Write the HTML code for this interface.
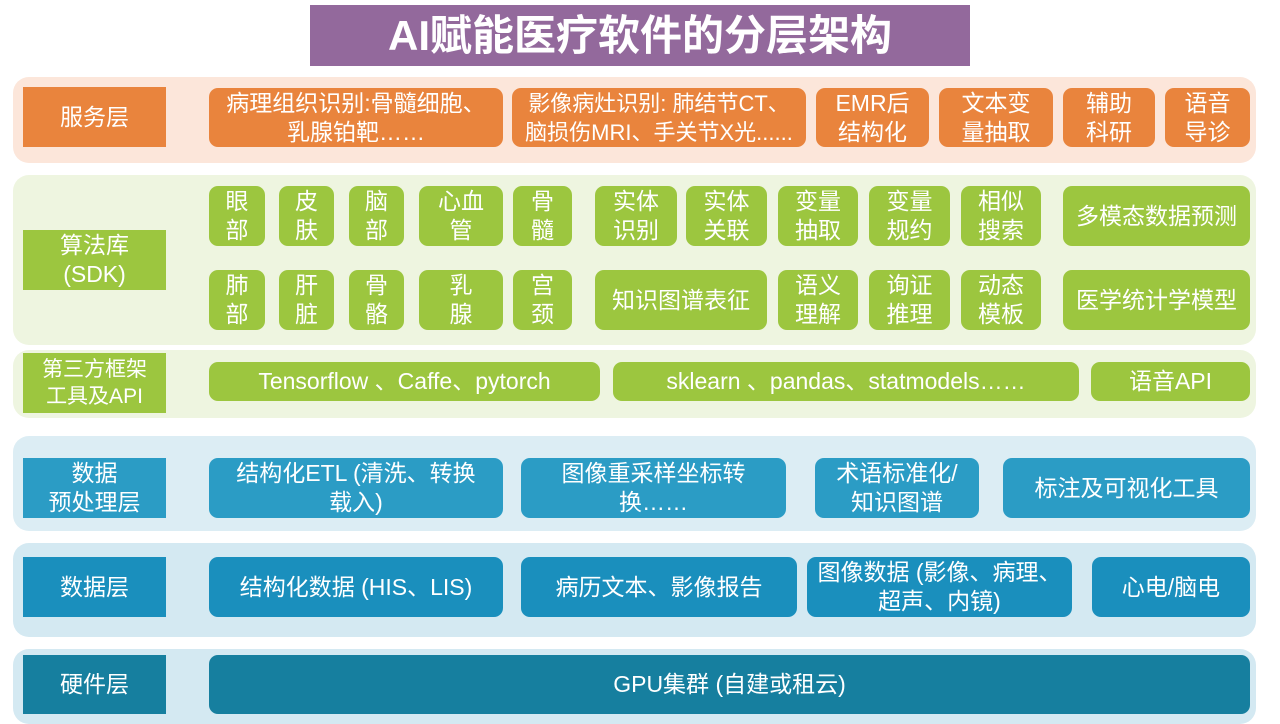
<!DOCTYPE html>
<html><head><meta charset="utf-8"><style>
body{margin:0;width:1280px;height:720px;position:relative;background:#fff;overflow:hidden;font-family:"Liberation Sans","Noto Sans CJK SC",sans-serif;}
div.b{position:absolute;display:flex;align-items:center;justify-content:center;text-align:center;color:#fff;font-size:23px;line-height:29px;box-sizing:border-box;white-space:nowrap;}
.r{border-radius:9px;}
.o{background:#e9843d;}.g{background:#9cc63f;}.t{background:#2b9cc5;}.d{background:#1a8fbd;}.h{background:#167f9f;}
.band{position:absolute;border-radius:16px;}
</style></head><body>
<div class="band" style="left:13px;top:77px;width:1243px;height:86px;background:#fce6da"></div>
<div class="band" style="left:13px;top:175px;width:1243px;height:170px;background:#eef5e0"></div>
<div class="band" style="left:13px;top:350px;width:1243px;height:68px;background:#eef5e0"></div>
<div class="band" style="left:13px;top:436px;width:1243px;height:95px;background:#dcedf4"></div>
<div class="band" style="left:13px;top:543px;width:1243px;height:94px;background:#d4e9f2"></div>
<div class="band" style="left:13px;top:649px;width:1243px;height:75px;background:#d4e9f2"></div>

<div class="b" style="left:310px;top:5px;width:660px;height:61px;background:#93699c;font-size:42px;font-weight:bold;">AI赋能医疗软件的分层架构</div>

<div class="b o" style="left:23px;top:87px;width:143px;height:60px">服务层</div>
<div class="b o r" style="left:209px;top:88px;width:294px;height:59px">病理组织识别:骨髓细胞、<br>乳腺铂靶……</div>
<div class="b o r" style="left:512px;top:88px;width:294px;height:59px;font-size:22px">影像病灶识别: 肺结节CT、<br>脑损伤MRI、手关节X光......</div>
<div class="b o r" style="left:816px;top:88px;width:113px;height:59px">EMR后<br>结构化</div>
<div class="b o r" style="left:939px;top:88px;width:114px;height:59px">文本变<br>量抽取</div>
<div class="b o r" style="left:1063px;top:88px;width:92px;height:59px">辅助<br>科研</div>
<div class="b o r" style="left:1165px;top:88px;width:85px;height:59px">语音<br>导诊</div>

<div class="b g" style="left:23px;top:230px;width:143px;height:60px">算法库<br>(SDK)</div>
<div class="b g r" style="left:209px;top:186px;width:56px;height:60px">眼<br>部</div>
<div class="b g r" style="left:279px;top:186px;width:55px;height:60px">皮<br>肤</div>
<div class="b g r" style="left:349px;top:186px;width:55px;height:60px">脑<br>部</div>
<div class="b g r" style="left:419px;top:186px;width:84px;height:60px">心血<br>管</div>
<div class="b g r" style="left:513px;top:186px;width:59px;height:60px">骨<br>髓</div>
<div class="b g r" style="left:595px;top:186px;width:82px;height:60px">实体<br>识别</div>
<div class="b g r" style="left:686px;top:186px;width:81px;height:60px">实体<br>关联</div>
<div class="b g r" style="left:778px;top:186px;width:80px;height:60px">变量<br>抽取</div>
<div class="b g r" style="left:869px;top:186px;width:81px;height:60px">变量<br>规约</div>
<div class="b g r" style="left:961px;top:186px;width:80px;height:60px">相似<br>搜索</div>
<div class="b g r" style="left:1063px;top:186px;width:187px;height:60px">多模态数据预测</div>
<div class="b g r" style="left:209px;top:270px;width:56px;height:60px">肺<br>部</div>
<div class="b g r" style="left:279px;top:270px;width:55px;height:60px">肝<br>脏</div>
<div class="b g r" style="left:349px;top:270px;width:55px;height:60px">骨<br>骼</div>
<div class="b g r" style="left:419px;top:270px;width:84px;height:60px">乳<br>腺</div>
<div class="b g r" style="left:513px;top:270px;width:59px;height:60px">宫<br>颈</div>
<div class="b g r" style="left:595px;top:270px;width:172px;height:60px">知识图谱表征</div>
<div class="b g r" style="left:778px;top:270px;width:80px;height:60px">语义<br>理解</div>
<div class="b g r" style="left:869px;top:270px;width:81px;height:60px">询证<br>推理</div>
<div class="b g r" style="left:961px;top:270px;width:80px;height:60px">动态<br>模板</div>
<div class="b g r" style="left:1063px;top:270px;width:187px;height:60px">医学统计学模型</div>

<div class="b g" style="left:23px;top:353px;width:143px;height:60px;font-size:21px;line-height:27px">第三方框架<br>工具及API</div>
<div class="b g r" style="left:209px;top:362px;width:391px;height:39px">Tensorflow 、Caffe、pytorch</div>
<div class="b g r" style="left:613px;top:362px;width:466px;height:39px">sklearn 、pandas、statmodels……</div>
<div class="b g r" style="left:1091px;top:362px;width:159px;height:39px">语音API</div>

<div class="b t" style="left:23px;top:458px;width:143px;height:60px">数据<br>预处理层</div>
<div class="b t r" style="left:209px;top:458px;width:294px;height:60px">结构化ETL (清洗、转换<br>载入)</div>
<div class="b t r" style="left:521px;top:458px;width:265px;height:60px">图像重采样坐标转<br>换……</div>
<div class="b t r" style="left:815px;top:458px;width:164px;height:60px">术语标准化/<br>知识图谱</div>
<div class="b t r" style="left:1003px;top:458px;width:247px;height:60px">标注及可视化工具</div>

<div class="b d" style="left:23px;top:557px;width:143px;height:60px">数据层</div>
<div class="b d r" style="left:209px;top:557px;width:294px;height:60px">结构化数据 (HIS、LIS)</div>
<div class="b d r" style="left:521px;top:557px;width:276px;height:60px">病历文本、影像报告</div>
<div class="b d r" style="left:807px;top:557px;width:265px;height:60px">图像数据 (影像、病理、<br>超声、内镜)</div>
<div class="b d r" style="left:1092px;top:557px;width:158px;height:60px">心电/脑电</div>

<div class="b h" style="left:23px;top:655px;width:143px;height:59px">硬件层</div>
<div class="b h r" style="left:209px;top:655px;width:1041px;height:59px">GPU集群 (自建或租云)</div>
</body></html>
